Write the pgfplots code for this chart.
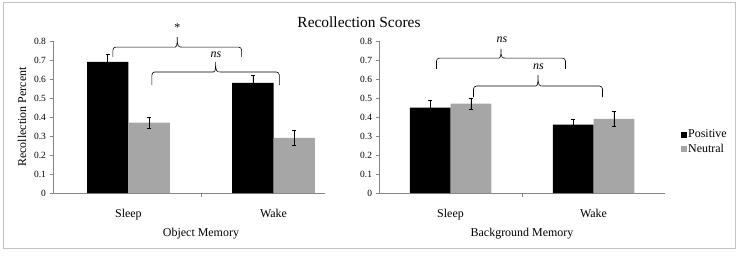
\documentclass[border=0pt]{standalone}
\usepackage{fontspec}
\setmainfont{Liberation Serif}
\usepackage{pgfplots}
\usepackage{pgfplotstable}
\pgfplotsset{compat=1.18}

\definecolor{bargray}{RGB}{166,166,166}
\definecolor{axgray}{RGB}{134,134,134}
\definecolor{framegray}{RGB}{195,195,195}

\pgfplotstableread{
x pos pose neu neue
0 0.69 0.04 0.37 0.03
1 0.58 0.04 0.29 0.04
}\objdata
\pgfplotstableread{
x pos pose neu neue
0 0.45 0.04 0.47 0.03
1 0.36 0.03 0.39 0.04
}\bgdata

% x1 x2 xc yend yh ytip
\newcommand{\sigbrace}[6]{%
  \draw[black, line width=0.6bp]
    (axis cs:#1,#4) [rounded corners=3bp] -- (axis cs:#1,#5) -- ([xshift=-5bp]axis cs:#3,#5) [sharp corners]
    .. controls ([xshift=-1bp]axis cs:#3,#5) and (axis cs:#3,#5) .. (axis cs:#3,#6)
    .. controls (axis cs:#3,#5) and ([xshift=1bp]axis cs:#3,#5) .. ([xshift=5bp]axis cs:#3,#5)
    [rounded corners=3bp] -- (axis cs:#2,#5) -- (axis cs:#2,#4);%
}

\pgfplotsset{
  recol/.style={
    scale only axis, height=152bp,
    ybar=0pt, bar width=0.285,
    ymin=0, ymax=0.8,
    ytick={0,0.1,0.2,0.3,0.4,0.5,0.6,0.7,0.8},
    yticklabel style={/pgf/number format/fixed, /pgf/number format/precision=1, font=\fontsize{9.5}{10}\selectfont},
    /pgf/number format/assume math mode=true,
    axis x line*=bottom, axis y line*=left,
    axis line style={axgray, line width=0.8bp, -},
    tick style={axgray, line width=0.8bp},
    tick align=outside, major tick length=3.5bp,
    xtick={0.5}, xticklabels={},
    extra x ticks={0,1}, extra x tick labels={Sleep,Wake},
    extra x tick style={major tick length=0bp,
      xticklabel style={anchor=base, yshift=-24bp, font=\fontsize{12}{13}\selectfont}},
    clip=false,
    error bars/error bar style={black, line width=0.6bp},
    error bars/error mark options={rotate=90, mark size=2bp, black, line width=0.6bp},
    label style={font=\fontsize{12}{13}\selectfont},
  }
}

\begin{document}
\begin{tikzpicture}[x=1bp,y=1bp]
\useasboundingbox (0,0) rectangle (739,255);
\draw[framegray, line width=1bp] (3,7) rectangle (735,252);
\node[anchor=base, font=\fontsize{15.5}{18}\selectfont] at (359,228) {Recollection Scores};

\begin{axis}[recol, at={(53bp,62bp)}, anchor=south west, width=272bp,
  xmin=-0.52, xmax=1.355,
  xlabel={Object Memory},
  xlabel style={at={(axis description cs:0.544,0)}, anchor=base, yshift=-43bp},
  ylabel={Recollection Percent},
  ylabel style={at={(axis description cs:-0.114,0.5)}, anchor=center},
]
\addplot[bar shift=-0.1425, fill=black, draw=none,
  error bars/.cd, y dir=both, y explicit]
  table[x=x, y=pos, y error=pose] {\objdata};
\addplot[bar shift=0.1425, fill=bargray, draw=none,
  error bars/.cd, y dir=both, y explicit]
  table[x=x, y=neu, y error=neue] {\objdata};
\sigbrace{-0.107}{0.78}{0.3365}{0.716}{0.768}{0.82}
\node[font=\fontsize{12}{14}\selectfont] at (axis cs:0.337,0.868) {*};
\sigbrace{0.162}{1.04}{0.601}{0.568}{0.637}{0.69}
\node[font=\itshape\fontsize{12}{13}\selectfont] at (axis cs:0.603,0.726) {ns};
\end{axis}

\begin{axis}[recol, at={(379bp,62bp)}, anchor=south west, width=286bp,
  xmin=-0.5, xmax=1.5,
  xlabel={Background Memory},
  xlabel style={at={(axis description cs:0.5,0)}, anchor=base, yshift=-43bp},
  legend style={draw=none, fill=none, at={(axis description cs:1,0.335)}, anchor=west,
    xshift=13bp, font=\fontsize{12}{13}\selectfont, row sep=3bp,
    nodes={inner sep=1bp}},
  legend cell align=left,
  legend image code/.code={\fill[#1] (0bp,-3bp) rectangle (6bp,3bp);},
]
\addplot[bar shift=-0.1425, fill=black, draw=none,
  error bars/.cd, y dir=both, y explicit]
  table[x=x, y=pos, y error=pose] {\bgdata};
\addlegendentry{Positive}
\addplot[bar shift=0.1425, fill=bargray, draw=none,
  error bars/.cd, y dir=both, y explicit]
  table[x=x, y=neu, y error=neue] {\bgdata};
\addlegendentry{Neutral}
\sigbrace{-0.098}{0.804}{0.353}{0.653}{0.71}{0.758}
\node[font=\itshape\fontsize{12}{13}\selectfont] at (axis cs:0.36,0.805) {ns};
\sigbrace{0.161}{1.063}{0.612}{0.505}{0.563}{0.62}
\node[font=\itshape\fontsize{12}{13}\selectfont] at (axis cs:0.615,0.663) {ns};
\end{axis}
\end{tikzpicture}
\end{document}
